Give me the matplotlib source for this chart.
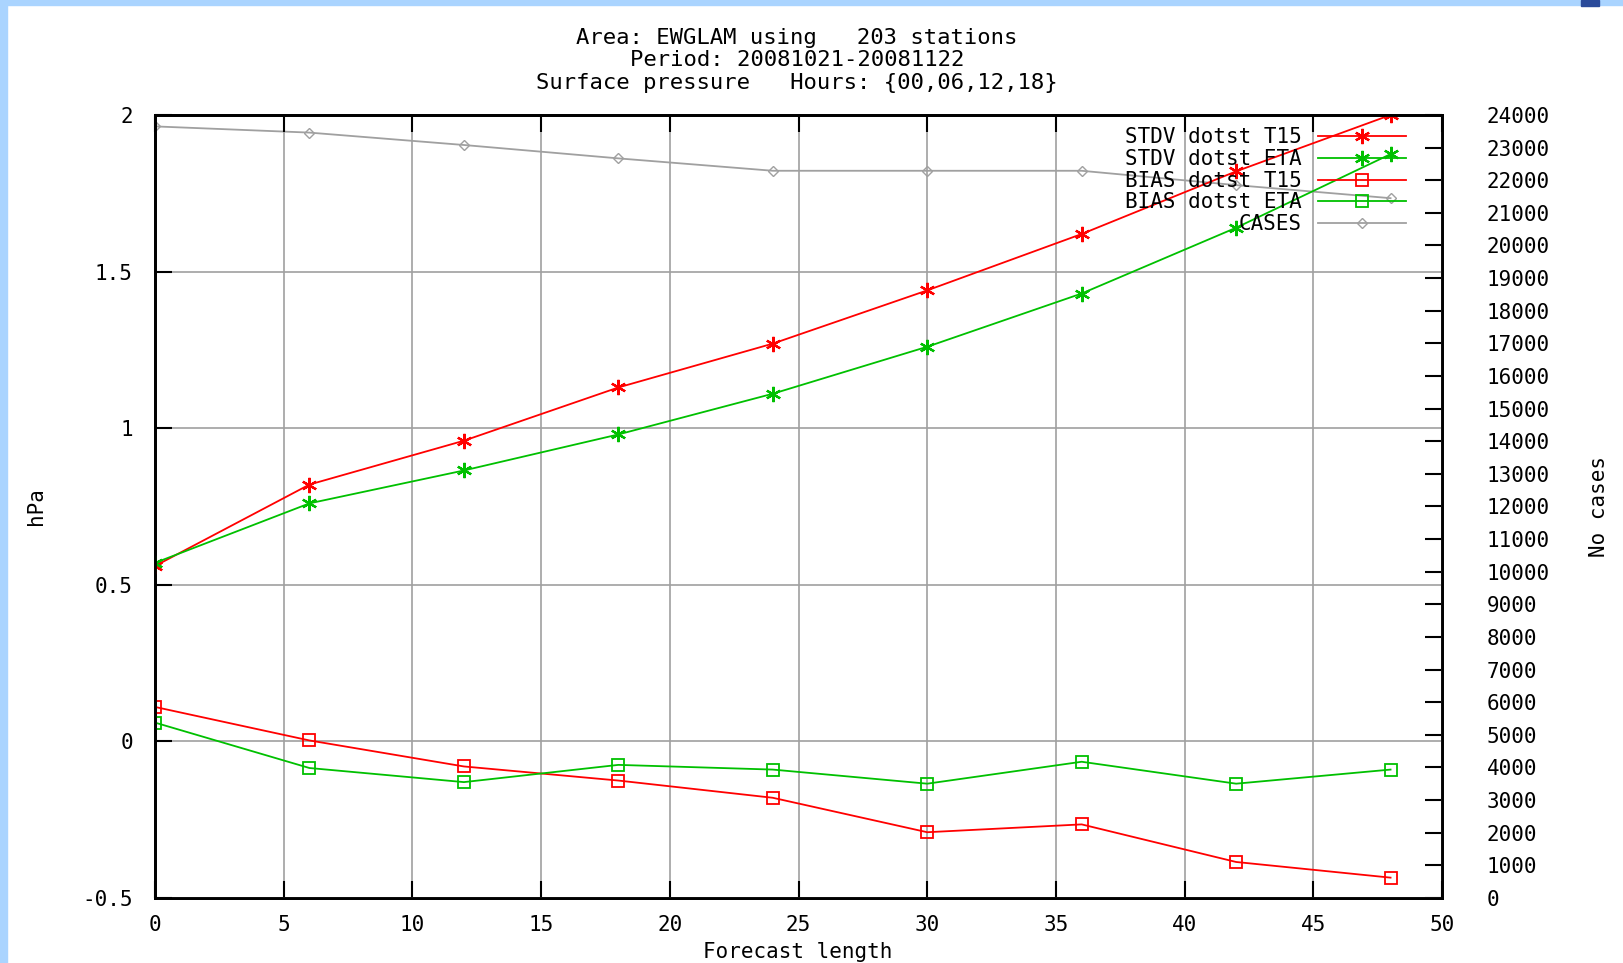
import numpy as np
import matplotlib
matplotlib.use('Agg')
import matplotlib.pyplot as plt
from matplotlib.patches import Rectangle

# forecast lengths (hours)
hours = [0, 6, 12, 18, 24, 30, 36, 42, 48]

# scores in hPa
stdv_t15 = [0.56, 0.82, 0.96, 1.13, 1.27, 1.44, 1.62, 1.82, 2.00]
stdv_eta = [0.57, 0.76, 0.865, 0.98, 1.11, 1.26, 1.43, 1.64, 1.875]
bias_t15 = [0.11, 0.003, -0.08, -0.125, -0.18, -0.29, -0.265, -0.385, -0.435]
bias_eta = [0.06, -0.085, -0.13, -0.075, -0.09, -0.135, -0.065, -0.135, -0.09]

# number of cases (right axis)
cases = [23650, 23460, 23080, 22670, 22290, 22290, 22290, 21850, 21450]

title_lines = ['Area: EWGLAM using   203 stations',
               'Period: 20081021-20081122',
               'Surface pressure   Hours: {00,06,12,18}']

RED = '#ff0000'
GREEN = '#00c000'
GRAY = '#a0a0a0'
FONT = 'DejaVu Sans Mono'
plt.rcParams['font.family'] = FONT

fig = plt.figure(figsize=(16.23, 9.63), dpi=100, facecolor='white')
ax = fig.add_axes([0.0955, 0.0675, 0.7930, 0.8131])

# light blue frame of the slide
fig.patches.append(Rectangle((0, 0), 7 / 1623, 1, transform=fig.transFigure,
                             color='#aad4ff', zorder=-10))
fig.patches.append(Rectangle((0, 1 - 5 / 963), 1, 5 / 963, transform=fig.transFigure,
                             color='#aad4ff', zorder=-10))
fig.patches.append(Rectangle((1581 / 1623, 1 - 6 / 963), 18 / 1623, 6 / 963,
                             transform=fig.transFigure, color='#2a4a9a', zorder=-9))

ax2 = ax.twinx()
ax.set_zorder(ax2.get_zorder() + 1)
ax.patch.set_visible(False)

star = (6, 2, 0)
ax.plot(hours, stdv_t15, color=RED, lw=1.3, marker=star, ms=11, mew=1.6,
        label='STDV dotst T15')
ax.plot(hours, stdv_eta, color=GREEN, lw=1.3, marker=star, ms=11, mew=1.6,
        label='STDV dotst ETA')
ax.plot(hours, bias_t15, color=RED, lw=1.3, marker='s', ms=8, mfc='none', mew=1.3,
        label='BIAS dotst T15')
ax.plot(hours, bias_eta, color=GREEN, lw=1.3, marker='s', ms=8, mfc='none', mew=1.3,
        label='BIAS dotst ETA')
ax2.plot(hours, cases, color=GRAY, lw=1.3, marker='D', ms=5, mfc='none', mew=1.0)
# proxy for legend entry of cases
ax.plot([], [], color=GRAY, lw=1.3, marker='D', ms=5, mfc='none', mew=1.0, label='CASES')

ax.set_xlim(0, 50)
ax.set_ylim(-0.5, 2)
ax2.set_ylim(0, 24000)
ax.set_xticks(np.arange(0, 51, 5))
ax.set_yticks(np.arange(-0.5, 2.01, 0.5))
ax.set_yticklabels(['-0.5', '0', '0.5', '1', '1.5', '2'])
ax2.set_yticks(np.arange(0, 24001, 1000))

ax.grid(True, color=GRAY, lw=1.2)
for a in (ax, ax2):
    for s in a.spines.values():
        s.set_linewidth(2)
        s.set_color('black')

ax.tick_params(axis='both', direction='in', length=12, width=1.5, labelsize=15,
               top=True, right=False)
ax.tick_params(axis='x', pad=12)
ax.tick_params(axis='y', pad=16)
ax2.tick_params(axis='y', direction='in', length=12, width=1.5, labelsize=15, pad=32)

ax.set_ylabel('hPa', fontsize=15)
ax.yaxis.set_label_coords(-0.0845, 0.5)
ax2.set_ylabel('No cases', fontsize=15)
ax2.yaxis.set_label_coords(1.1144, 0.5)
ax.set_xlabel('Forecast length', fontsize=15)
ax.xaxis.set_label_coords(0.499, -0.056)

for i, line in enumerate(title_lines):
    fig.text(0.491, 0.9605 - i * 0.0232, line, ha='center', va='center', fontsize=16)

leg = ax.legend(loc='upper right', bbox_to_anchor=(0.982, 1.0), frameon=False,
                fontsize=15, markerfirst=False, handlelength=4.25, handletextpad=0.75,
                labelspacing=0.08, borderaxespad=0.2)

fig.savefig('out.png', dpi=100, facecolor='white')
